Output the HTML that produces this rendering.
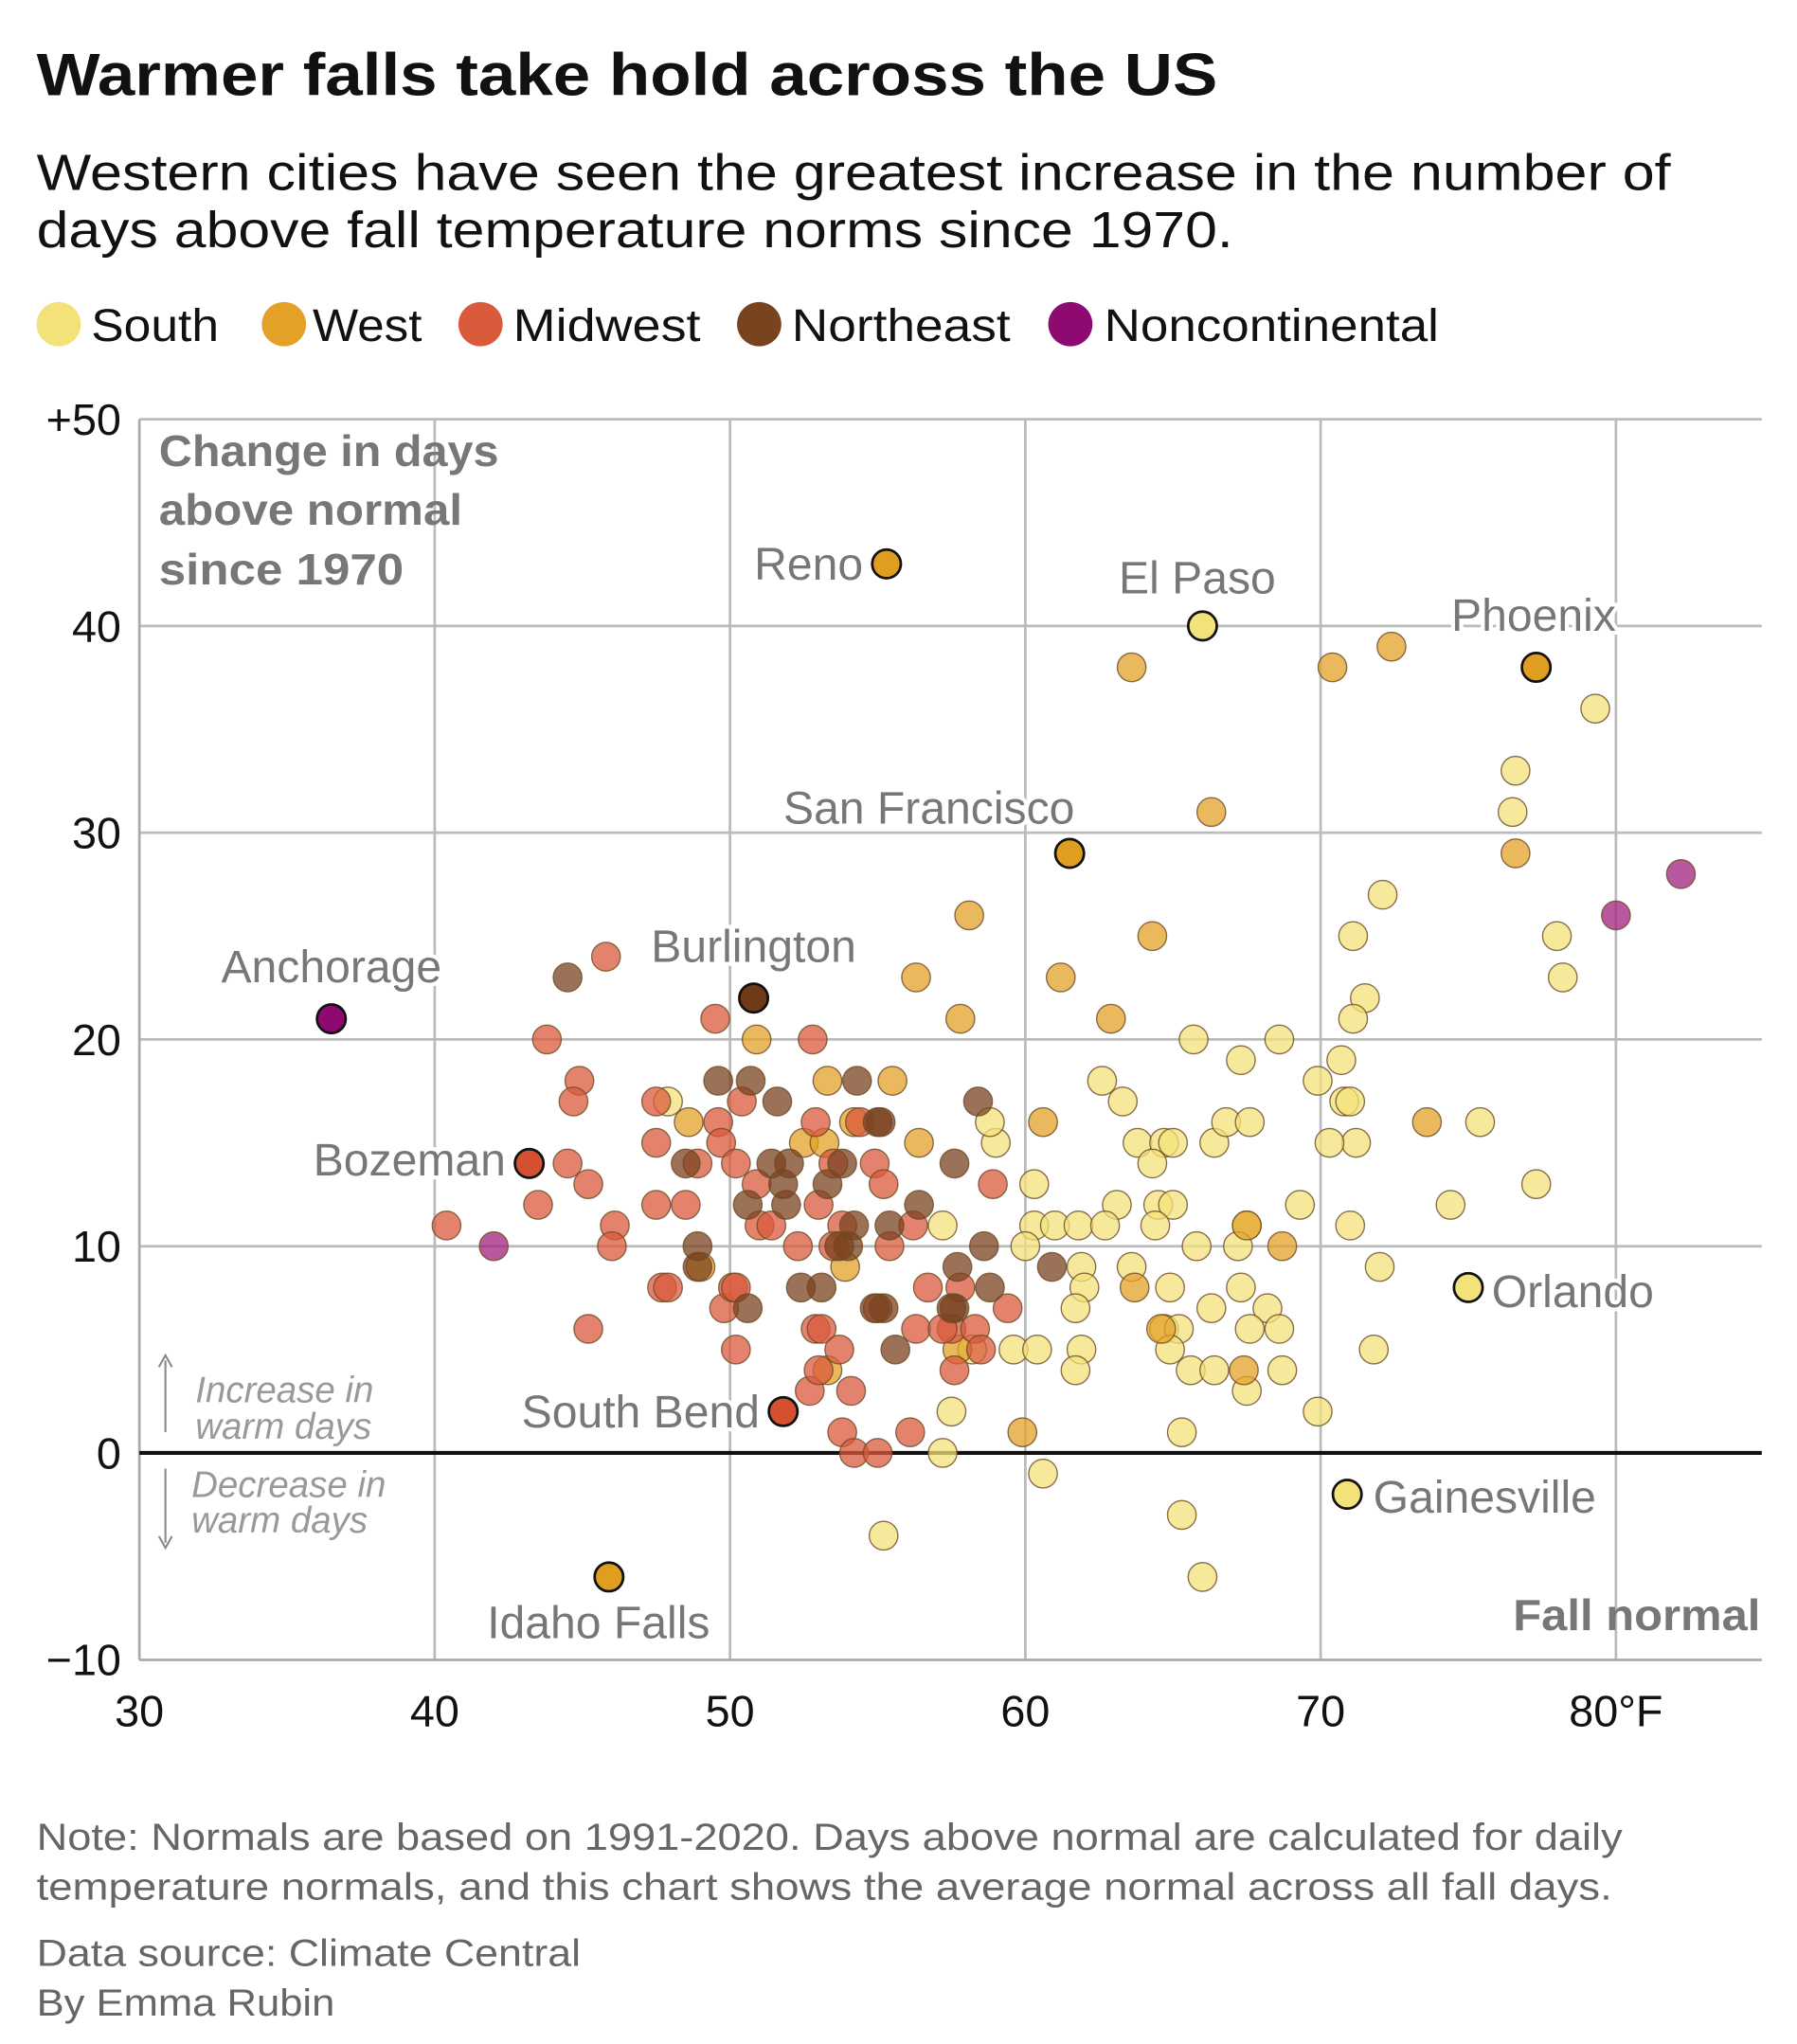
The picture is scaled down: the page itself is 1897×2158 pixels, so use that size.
<!DOCTYPE html>
<html><head><meta charset="utf-8"><style>
html,body{margin:0;padding:0;background:#fff;}
svg{display:block;font-family:"Liberation Sans",sans-serif;}
</style></head><body>
<svg id="chart" width="1897" height="2158" viewBox="0 0 1380 1570" xmlns="http://www.w3.org/2000/svg">
<text x="28" y="73" font-size="46" font-weight="bold" fill="#111" textLength="907" lengthAdjust="spacingAndGlyphs">Warmer falls take hold across the US</text>
<text x="28" y="146" font-size="39" fill="#111" textLength="1255" lengthAdjust="spacingAndGlyphs">Western cities have seen the greatest increase in the number of</text>
<text x="28" y="190" font-size="39" fill="#111" textLength="919" lengthAdjust="spacingAndGlyphs">days above fall temperature norms since 1970.</text>
<g font-size="35" fill="#111">
<circle cx="45" cy="249" r="17" fill="#f3e27a"/><text x="70" y="262" textLength="98" lengthAdjust="spacingAndGlyphs">South</text>
<circle cx="218" cy="249" r="17" fill="#e3a128"/><text x="240" y="262" textLength="84" lengthAdjust="spacingAndGlyphs">West</text>
<circle cx="369" cy="249" r="17" fill="#da5a3c"/><text x="394" y="262" textLength="144" lengthAdjust="spacingAndGlyphs">Midwest</text>
<circle cx="583" cy="249" r="17" fill="#7a4320"/><text x="608" y="262" textLength="168" lengthAdjust="spacingAndGlyphs">Northeast</text>
<circle cx="822" cy="249" r="17" fill="#8e0a70"/><text x="848" y="262" textLength="257" lengthAdjust="spacingAndGlyphs">Noncontinental</text>
</g>
<g id="grid"></g>
<g id="axes"></g>
<g>
<text x="122" y="358" font-size="34" font-weight="bold" fill="#777" textLength="261" lengthAdjust="spacingAndGlyphs">Change in days</text>
<text x="122" y="403" font-size="34" font-weight="bold" fill="#777" textLength="233" lengthAdjust="spacingAndGlyphs">above normal</text>
<text x="122" y="449" font-size="34" font-weight="bold" fill="#777" textLength="188" lengthAdjust="spacingAndGlyphs">since 1970</text>
<text x="1162" y="1252" font-size="34" font-weight="bold" fill="#777" textLength="190" lengthAdjust="spacingAndGlyphs">Fall normal</text>
<text x="150" y="1077" font-size="28" font-style="italic" fill="#999">Increase in</text>
<text x="150" y="1105" font-size="28" font-style="italic" fill="#999">warm days</text>
<text x="147" y="1150" font-size="28" font-style="italic" fill="#999">Decrease in</text>
<text x="147" y="1177" font-size="28" font-style="italic" fill="#999">warm days</text>
<line x1="127" y1="1045" x2="127" y2="1100" stroke="#888" stroke-width="1.5"/>
<path d="M122,1050 L127,1041 L132,1050" fill="none" stroke="#888" stroke-width="1.5"/>
<line x1="127" y1="1128" x2="127" y2="1185" stroke="#888" stroke-width="1.5"/>
<path d="M122,1180 L127,1189 L132,1180" fill="none" stroke="#888" stroke-width="1.5"/>
</g>
<g id="points"></g>
<g id="labels"></g>
<g font-size="29" fill="#666">
<text x="28" y="1421" textLength="1218" lengthAdjust="spacingAndGlyphs">Note: Normals are based on 1991-2020. Days above normal are calculated for daily</text>
<text x="28" y="1459" textLength="1210" lengthAdjust="spacingAndGlyphs">temperature normals, and this chart shows the average normal across all fall days.</text>
<text x="28" y="1510" textLength="418" lengthAdjust="spacingAndGlyphs">Data source: Climate Central</text>
<text x="28" y="1548" textLength="229" lengthAdjust="spacingAndGlyphs">By Emma Rubin</text>
</g>
</svg>
<script>
const xTicks=[30,40,50,60,70,80];
const xTickLabels=["30","40","50","60","70","80°F"];
const yTicks=[-10,0,10,20,30,40,50];
const yTickLabels=["\u221210","0","10","20","30","40","+50"];
const regions=["S","W","M","N","O"];
const regionColors={S:"#f3e27a",W:"#e3a128",M:"#da5a3c",N:"#7a4320",O:"#a0207f"};
const southTemps=[79.3,76.6,76.5,72.1,78,78.2,71.1,71.5,71.1,70.7,67.3,68.6,65.7,69.9,62.6,63.3,70.8,71,66.4,66.8,67.6,75.4,63.8,64.7,65.0,71.2,70.3,64.3,60.3,77.3,74.4,69.3,63.1,64.5,65,57.2,60.3,61,61.8,62.7,67.5,71,64.4,60,65.8,67.2,61.9,63.6,72,62,64.9,67.3,61.7,66.3,68.2,64.7,65.2,67.6,68.6,58.2,59.6,60.4,61.9,64.9,71.8,61.7,65.6,66.4,68.7,67.5,57.5,69.9,65.3,57.2,60.6,65.3,55.2,66,59,58.8,47.9];
const southValues=[36,33,31,27,25,23,25,22,21,19,19,20,20,18,18,17,17,17,15,16,16,16,15,15,15,15,15,14,13,13,12,12,12,12,12,11,11,11,11,11,11,11,11,10,10,10,9,9,9,8,8,8,7,7,7,6,6,6,6,5,5,5,5,5,5,4,4,4,4,3,2,2,1,0,-1,-3,-4,-6,15,16,17];
const westTemps=[63.6,70.4,72.4,66.3,76.6,58.1,64.3,56.3,61.2,57.8,62.9,50.9,53.3,55.5,54.2,60.6,73.6,56.4,52.5,53.2,48.6,63.7,64.6,67.4,67.5,68.7,59.9,49,53.9,57.7,53.3];
const westValues=[38,38,39,31,29,26,25,23,23,21,21,20,18,18,16,16,16,15,15,15,16,8,6,4,11,10,1,9,9,5,4];
const midwestTemps=[45.8,43.8,49.5,52.8,44.9,44.7,47.5,50.4,44.5,45.2,43.5,40.4,46.1,46,47.5,48.5,47.5,48.9,49.6,49.7,50.2,50.9,51,51.4,52.3,52.9,53.5,53,54.9,55.2,55.4,56.2,54.4,53.8,53.5,47.7,47.9,49.8,50.1,50.2,50.2,45.2,52.9,53.1,52.7,53,53.7,54.1,53.8,54.2,55,56.1,57.6,57.5,57.8,58.3,58.5,58.9,59.4,56.7,56.3,55,57.2];
const midwestValues=[24,20,21,20,18,17,17,17,14,13,12,11,11,10,12,12,15,14,16,15,14,13,11,11,10,16,14,12,14,13,10,11,16,11,10,8,8,7,8,8,5,6,6,6,3,4,5,3,1,0,0,1,4,6,8,6,5,13,7,8,6,7,6];
const northeastTemps=[44.5,49.6,50.7,51.6,54.3,55,55.1,48.5,51.4,51.9,51.8,53.3,53.8,50.6,54,53.7,54.2,55.4,56.4,57.6,58.4,58.6,57.7,57.6,57.5,58.8,60.9,55.6,54.9,55.2,48.9,48.9,50.6,52.4,53.1,52];
const northeastValues=[23,18,18,17,18,16,16,14,14,12,13,13,14,12,10,10,11,11,12,14,17,10,9,7,7,8,9,5,7,7,10,9,7,8,8,14];
const noncontTemps=[42,80,82.2];
const noncontValues=[10,26,28];
const cityNames=["Reno","El Paso","Phoenix","San Francisco","Burlington","Anchorage","Bozeman","South Bend","Idaho Falls","Orlando","Gainesville"];
const cityTemps=[55.3,66,77.3,61.5,50.8,36.5,43.2,51.8,45.9,75,70.9];
const cityValues=[43,40,38,29,22,21,14,2,-6,8,-2];
const cityRegions=["W","S","W","W","N","O","M","M","W","S","S"];
const cityLabelDx=[-18,-4,-2,-108,0,0,-18,-18,-8,18,20];
const cityLabelDy=[0,-37,-40,-35,-40,-40,-3,0,35,3,2];
const cityAnchor=["end","middle","middle","middle","middle","middle","end","end","middle","start","start"];

const X0=107,X1=1353,Y0=1275,Ytop=322;
function xs(t){return 107+(t-30)*22.68;}
function ys(v){return 1116-v*15.88;}
const NS="http://www.w3.org/2000/svg";
function mk(tag,attrs,parent){const e=document.createElementNS(NS,tag);for(const k in attrs)e.setAttribute(k,attrs[k]);parent.appendChild(e);return e;}
const grid=document.getElementById('grid'),axes=document.getElementById('axes'),pts=document.getElementById('points'),lab=document.getElementById('labels');
yTicks.forEach((v,i)=>{
  if(v!==0&&v!==-10){const l=mk('line',{x1:X0,x2:X1,y1:ys(v),y2:ys(v),stroke:'#bbb','stroke-width':2},grid);
  
  }
  const t=mk('text',{x:93,y:ys(v)+12,'text-anchor':'end','font-size':34,fill:'#111'},axes);t.textContent=yTickLabels[i];
  
  
});
xTicks.forEach((v,i)=>{
  if(v!==30){const l=mk('line',{x1:xs(v),x2:xs(v),y1:Ytop,y2:Y0,stroke:'#bbb','stroke-width':2},grid);
  
  }
  const t=mk('text',{x:xs(v),y:1326,'text-anchor':'middle','font-size':34,fill:'#111'},axes);t.textContent=xTickLabels[i];
  
  
});
mk('line',{x1:X0,x2:X0,y1:Ytop,y2:Y0,stroke:'#aaa','stroke-width':2},axes);
mk('line',{x1:X0,x2:X1,y1:Y0,y2:Y0,stroke:'#aaa','stroke-width':2},axes);
mk('line',{x1:X0,x2:X1,y1:ys(0),y2:ys(0),stroke:'#111','stroke-width':3},axes);
function series(ts,vs,r){ts.forEach((t,i)=>{
  const c=mk('circle',{cx:xs(t),cy:ys(vs[i]),r:11,fill:regionColors[r],'fill-opacity':0.75,stroke:'#6b4a25','stroke-opacity':0.8,'stroke-width':1},pts);
  
  
});}
series(southTemps,southValues,"S");
series(westTemps,westValues,"W");
series(midwestTemps,midwestValues,"M");
series(northeastTemps,northeastValues,"N");
series(noncontTemps,noncontValues,"O");
const solid={S:"#f3e27a",W:"#e09e20",M:"#d4502f",N:"#6e3a18",O:"#8e0a70"};
cityNames.forEach((n,i)=>{
  const cx=xs(cityTemps[i]),cy=ys(cityValues[i]);
  const c=mk('circle',{cx:cx,cy:cy,r:11,fill:solid[cityRegions[i]],stroke:'#111','stroke-width':2},pts);
  
  
  const t=mk('text',{x:cx+cityLabelDx[i],y:cy+cityLabelDy[i]+12,'text-anchor':cityAnchor[i],'font-size':35,fill:'#777',stroke:'#fff','stroke-width':6,'paint-order':'stroke'},lab);
  t.textContent=n;
  
  
});
</script>
</body></html>
